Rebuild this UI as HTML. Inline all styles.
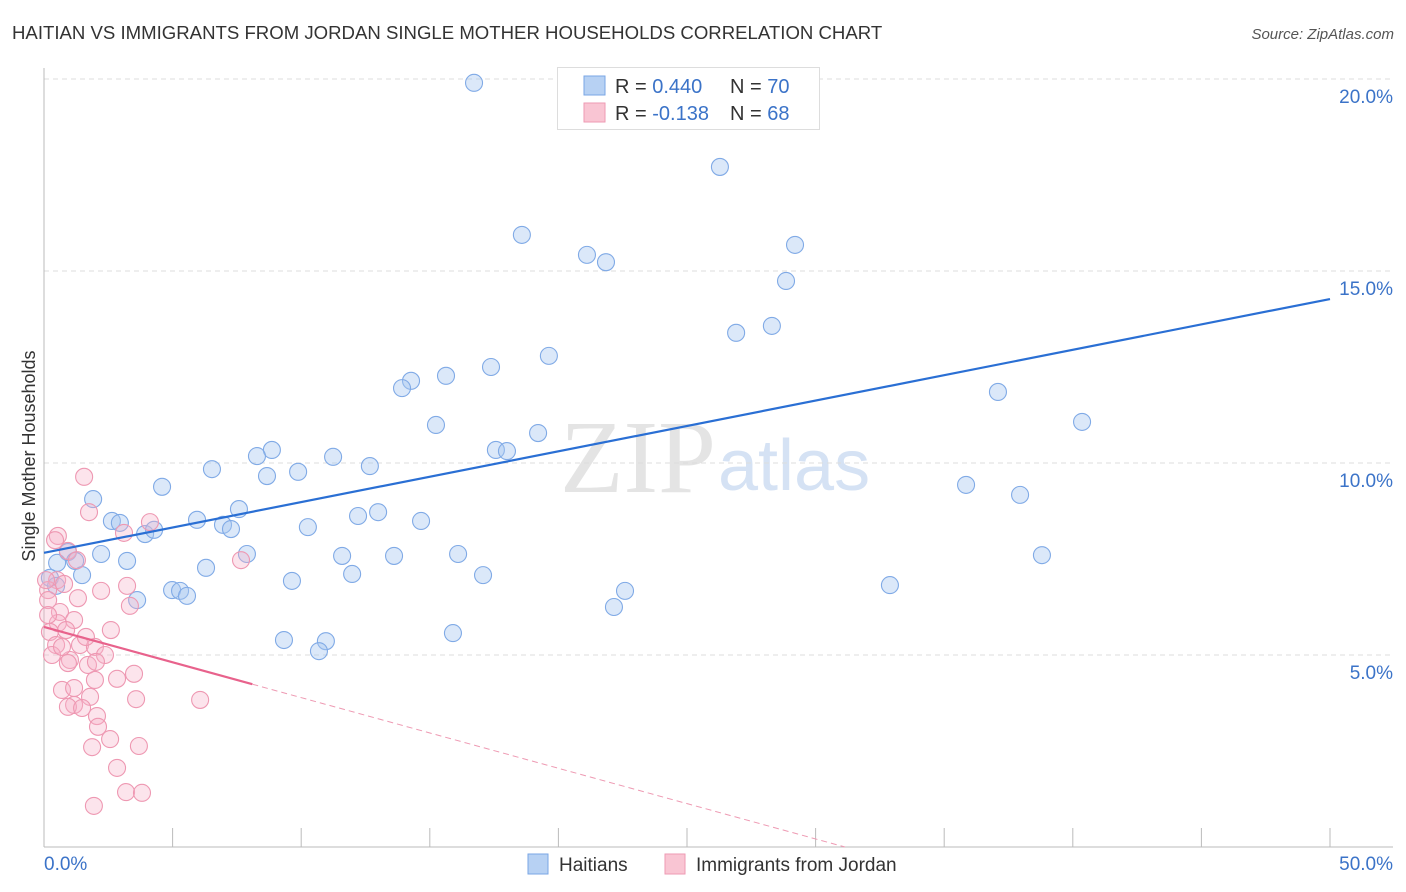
<!DOCTYPE html>
<html><head><meta charset="utf-8"><style>
body{margin:0;background:#fff;font-family:"Liberation Sans",sans-serif;}
svg{display:block}
</style></head><body>
<svg id="chart" width="1406" height="892" xmlns="http://www.w3.org/2000/svg">
<text x="12" y="39" font-size="18.6" fill="#333">HAITIAN VS IMMIGRANTS FROM JORDAN SINGLE MOTHER HOUSEHOLDS CORRELATION CHART</text>
<text x="1394" y="39" font-size="15" font-style="italic" fill="#555" text-anchor="end">Source: ZipAtlas.com</text>
<text x="716" y="492" font-size="104" font-family="Liberation Serif,serif" fill="#e4e4e4" text-anchor="end">ZIP</text>
<text x="718" y="490" font-size="72" fill="#d5e2f4">atlas</text>
<text transform="translate(35,456) rotate(-90)" font-size="18" fill="#333" text-anchor="middle">Single Mother Households</text>
<g id="grid"></g><g id="axes"></g><g id="marks"></g>
<g>
<rect x="557.5" y="67.5" width="262" height="62" fill="#fff" stroke="#ddd"/>
<rect x="584" y="76" width="21" height="19" fill="#b7d1f3" stroke="#7aa6e4"/>
<rect x="584" y="103" width="21" height="19" fill="#f9c5d3" stroke="#ee9ab3"/>
<text x="615" y="93" font-size="20" fill="#333">R = <tspan fill="#3b73c8">0.440</tspan></text>
<text x="730" y="93" font-size="20" fill="#333">N = <tspan fill="#3b73c8">70</tspan></text>
<text x="615" y="120" font-size="20" fill="#333">R = <tspan fill="#3b73c8">-0.138</tspan></text>
<text x="730" y="120" font-size="20" fill="#333">N = <tspan fill="#3b73c8">68</tspan></text>
</g>
<g>
<rect x="528" y="854" width="20" height="20" fill="#b7d1f3" stroke="#7aa6e4"/>
<text x="559" y="871" font-size="19" fill="#333">Haitians</text>
<rect x="665" y="854" width="20" height="20" fill="#f9c5d3" stroke="#ee9ab3"/>
<text x="696" y="871" font-size="19" fill="#333">Immigrants from Jordan</text>
</g>
</svg>
<script>
const blueX=[16.72,26.28,18.58,21.11,21.85,29.20,28.85,26.91,28.30,19.63,17.38,15.63,14.27,13.92,15.24,37.09,40.36,19.21,17.57,18.00,8.86,8.28,11.24,12.67,6.53,8.67,9.88,4.59,1.91,35.85,37.95,7.58,12.99,12.21,14.66,5.95,2.64,2.95,6.96,7.27,10.26,3.93,4.28,0.93,2.22,1.21,3.23,7.89,11.59,13.61,16.10,38.80,0.51,1.48,6.30,11.98,17.07,0.23,0.47,9.64,4.98,5.29,5.56,3.62,22.59,32.89,22.16,9.33,10.96,10.69,15.90];
const blueY=[19.90,17.71,15.94,15.42,15.23,15.68,14.74,13.39,13.57,12.79,12.50,12.27,12.14,11.95,10.99,11.85,11.07,10.78,10.34,10.31,10.34,10.18,10.16,9.92,9.84,9.66,9.77,9.38,9.06,9.43,9.17,8.80,8.72,8.62,8.49,8.52,8.49,8.44,8.39,8.28,8.33,8.15,8.26,7.68,7.63,7.45,7.45,7.63,7.58,7.58,7.63,7.60,7.40,7.08,7.27,7.11,7.08,7.01,6.80,6.93,6.69,6.67,6.54,6.43,6.67,6.82,6.25,5.39,5.36,5.10,5.57];
const pinkX=[1.56,1.75,0.54,3.11,4.12,0.93,1.28,0.51,3.23,2.22,0.16,3.34,1.32,0.78,0.16,0.62,1.17,0.54,2.60,0.23,0.86,1.40,1.98,2.37,0.47,0.31,1.01,1.71,0.93,2.02,2.84,3.50,1.98,0.70,1.17,1.79,1.17,0.93,1.48,3.58,6.07,2.06,2.10,2.57,1.87,3.69,2.84,3.19,3.81,1.94,0.43,0.08,7.66,0.16,0.70,1.63];
const pinkY=[9.64,8.72,8.10,8.18,8.46,7.71,7.47,6.95,6.80,6.67,6.69,6.28,6.48,6.85,6.43,6.12,5.91,5.83,5.65,5.60,5.65,5.26,5.21,5.00,5.26,5.00,4.87,4.74,4.79,4.82,4.38,4.51,4.35,4.09,4.14,3.91,3.70,3.65,3.62,3.85,3.83,3.41,3.13,2.81,2.60,2.63,2.06,1.43,1.41,1.07,7.99,6.95,7.47,6.04,5.21,5.47];
const blueTrend=[7.66,14.27];
const pinkTrend=[5.73,-0.184];
const yTicks=[5,10,15,20];
const yTickLabels=["5.0%","10.0%","15.0%","20.0%"];
const xTicks=[0,5,10,15,20,25,30,35,40,45,50];
const NS="http://www.w3.org/2000/svg";
const sx=v=>44+v*25.72, sy=v=>847-v*38.4;
function mk(p,t,a){const e=document.createElementNS(NS,t);for(const k in a)e.setAttribute(k,a[k]);document.getElementById(p).appendChild(e);return e;}
yTicks.forEach((t,i)=>{
 const l=mk('grid','line',{x1:44,x2:1393,y1:sy(t),y2:sy(t),stroke:'#ddd','stroke-dasharray':'5,4'});
 
 
 const tx=mk('grid','text',{x:1393,y:sy(t)+24,'font-size':19,fill:'#3b73c8','text-anchor':'end'});
 tx.textContent=yTickLabels[i];
 
 
});
const ax=mk('axes','line',{x1:44,x2:44,y1:68,y2:847,stroke:'#bbb'});


const bx=mk('axes','line',{x1:44,x2:1393,y1:847,y2:847,stroke:'#bbb'});


xTicks.forEach(t=>{
 const l=mk('axes','line',{x1:sx(t),x2:sx(t),y1:828,y2:847,stroke:'#bbb'});
 
 
});
const x0=mk('axes','text',{x:44,y:870,'font-size':19,fill:'#3b73c8'});x0.textContent='0.0%';


const x1=mk('axes','text',{x:1393,y:870,'font-size':19,fill:'#3b73c8','text-anchor':'end'});x1.textContent='50.0%';


blueX.forEach((v,i)=>{
 const c=mk('marks','circle',{cx:sx(v),cy:sy(blueY[i]),r:8.5,fill:'rgba(165,198,240,0.4)',stroke:'#80aae6','stroke-width':1.1});
 
 
});
pinkX.forEach((v,i)=>{
 const c=mk('marks','circle',{cx:sx(v),cy:sy(pinkY[i]),r:8.5,fill:'rgba(245,178,200,0.35)',stroke:'#ee98b2','stroke-width':1.1});
 
 
});
const bt=mk('marks','line',{x1:sx(0),y1:sy(blueTrend[0]),x2:sx(50),y2:sy(blueTrend[1]),stroke:'#2a6fd4','stroke-width':2.2});


const pEnd=8.1, pZero=-pinkTrend[0]/pinkTrend[1];
const pt=mk('marks','line',{x1:sx(0),y1:sy(pinkTrend[0]),x2:sx(pEnd),y2:sy(pinkTrend[0]+pinkTrend[1]*pEnd),stroke:'#e8628c','stroke-width':2.2});


const pd=mk('marks','line',{x1:sx(pEnd),y1:sy(pinkTrend[0]+pinkTrend[1]*pEnd),x2:sx(pZero),y2:sy(0),stroke:'#ee9ab3','stroke-width':1,'stroke-dasharray':'6,4'});


</script>
</body></html>
